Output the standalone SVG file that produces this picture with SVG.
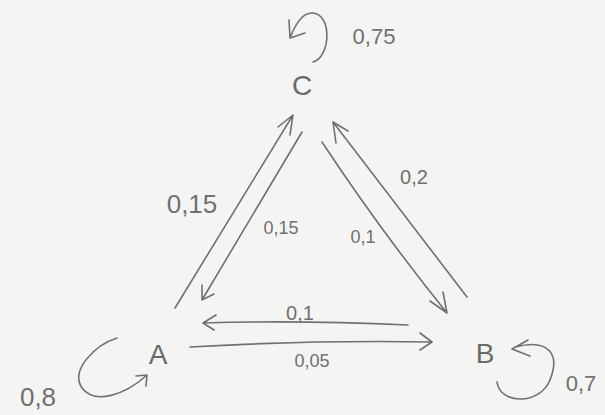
<svg xmlns="http://www.w3.org/2000/svg" width="605" height="415" viewBox="0 0 605 415">
<defs>
<style>
.bg{fill:#f4f4f3}
.e{fill:none;stroke:#707070;stroke-width:1.6;stroke-linecap:round;stroke-linejoin:round}
.n{font-family:"Liberation Sans",Arial,sans-serif;font-size:28px;fill:#6a6a6a;text-anchor:middle}
.l{font-family:"Liberation Sans",Arial,sans-serif;font-size:20px;fill:#707070;text-anchor:middle}
</style>
</defs>
<rect class="bg" x="0" y="0" width="605" height="415"/>
<g id="A"><text class="n" x="158" y="364">A</text></g>
<g id="B"><text class="n" x="485" y="363">B</text></g>
<g id="C"><text class="n" x="302" y="95">C</text></g>
<g id="connectors">
<!-- A to C -->
<path class="e" d="M175,308 L293,115 M278,127 L293,115 L290,135"/>
<!-- C to A -->
<path class="e" d="M302,132 L202,300 M202,285 L202,300 L214,294"/>
<!-- C to B -->
<path class="e" d="M322,142 Q380,230 447,313 M430,301 L447,313 L443,292"/>
<!-- B to C -->
<path class="e" d="M467,297 Q400,210 333,122 M336,143 L333,122 L348,131"/>
<!-- B to A -->
<path class="e" d="M408,325 Q300,320 203,323 M216,315 L203,323 L214,330"/>
<!-- A to B -->
<path class="e" d="M190,347 Q310,340 432,342 M420,333 L432,342 L420,350"/>
<!-- C self loop -->
<path class="e" d="M313,62 C330,58 333,15 313,13 C303,12 295,25 290,38 M289,20 L290,38 L305,33"/>
<!-- A self loop -->
<path class="e" d="M117,338 C95,345 70,370 82,388 C95,405 125,395 147,375 M136,376 L147,375 L146,386"/>
<!-- B self loop -->
<path class="e" d="M497,382 C500,405 540,405 550,380 C560,355 550,338 515,347 M528,340 L512,349 L530,356"/>
<text class="l" x="374" y="44" style="font-size:22px">0,75</text>
<text class="l" x="192" y="213" style="font-size:26px">0,15</text>
<text class="l" x="281" y="234" style="font-size:18px">0,15</text>
<text class="l" x="414" y="184" style="font-size:20px">0,2</text>
<text class="l" x="363" y="243" style="font-size:18px">0,1</text>
<text class="l" x="300" y="320" style="font-size:20px">0,1</text>
<text class="l" x="312" y="367" style="font-size:18px">0,05</text>
<text class="l" x="38" y="406" style="font-size:26px">0,8</text>
<text class="l" x="581" y="391" style="font-size:22px">0,7</text>
</g>
</svg>
